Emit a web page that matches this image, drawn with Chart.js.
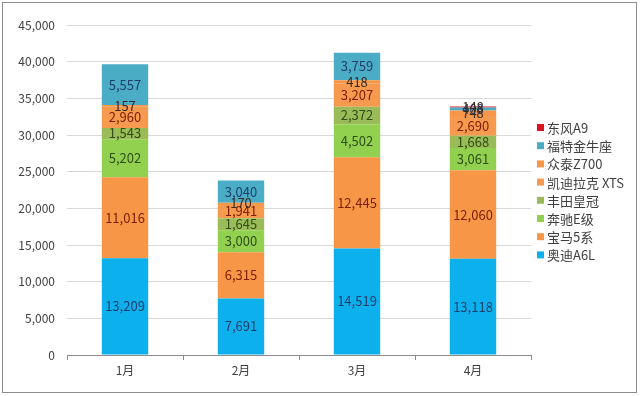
<!DOCTYPE html>
<html>
<head>
<meta charset="utf-8">
<script src="https://cdn.jsdelivr.net/npm/chart.js@4"></script>
<style>
  html, body { margin: 0; padding: 0; background: #fff; }
  #wrap { width: 640px; height: 396px; }
</style>
</head>
<body>
<div id="wrap"><canvas id="sales"></canvas></div>
<script>
const months = ['1月', '2月', '3月', '4月']
const audiA6L = [13209, 7691, 14519, 13118]
const bmw5 = [11016, 6315, 12445, 12060]
const benzE = [5202, 3000, 4502, 3061]
const crown = [1543, 1645, 2372, 1668]
const cadillacXTS = [2960, 1941, 3207, 2690]
const zotyeZ700 = [157, 170, 418, 748]
const fordTaurus = [5557, 3040, 3759, 408]
const dongfengA9 = [0, 0, 0, 148]
const yTicks = [0, 5000, 10000, 15000, 20000, 25000, 30000, 35000, 40000, 45000]

const font = "'Noto Sans CJK SC', 'Noto Sans', sans-serif"

function ds(label, data, color, labelColor) {
  return { label, data, backgroundColor: color, labelColor, borderWidth: 0 }
}

// labels in the middle of every segment
const segLabels = {
  id: 'segLabels',
  afterDatasetsDraw(chart) {
    const ctx = chart.ctx
    ctx.save()
    ctx.font = '13px ' + font
    ctx.textAlign = 'center'
    ctx.textBaseline = 'middle'
    chart.data.datasets.forEach((d, i) => {
      chart.getDatasetMeta(i).data.forEach((bar, j) => {
        const v = d.data[j]
        if (!v) return
        ctx.fillStyle = d.labelColor
        ctx.fillText(v.toLocaleString('en-US'), bar.x, (bar.y + bar.base) / 2)
      })
    })
    ctx.restore()
  }
}

// frame + legend on the right, top series first
const frameLegend = {
  id: 'frameLegend',
  beforeDraw(chart) {
    const ctx = chart.ctx
    ctx.save()
    ctx.strokeStyle = '#8c8c8c'
    ctx.lineWidth = 1
    ctx.strokeRect(2.5, 2.5, 634, 390)
    ctx.restore()
  },
  afterDraw(chart) {
    const ctx = chart.ctx
    ctx.save()
    ctx.font = '13px ' + font
    ctx.textBaseline = 'middle'
    const list = chart.data.datasets.slice().reverse()
    list.forEach((d, i) => {
      const y = 128 + i * 18.2
      ctx.fillStyle = d.backgroundColor
      ctx.fillRect(537, y - 4, 7, 7)
      ctx.fillStyle = '#404040'
      ctx.fillText(d.label, 547, y)
    })
    ctx.restore()
  }
}

new Chart(document.getElementById('sales'), {
  type: 'bar',
  data: {
    labels: months,
    datasets: [
      ds('奥迪A6L', audiA6L, '#0bb0ec', '#1f3f6e'),
      ds('宝马5系', bmw5, '#f79646', '#7a1f05'),
      ds('奔驰E级', benzE, '#92d050', '#2f4f14'),
      ds('丰田皇冠', crown, '#9bbb59', '#2f4f14'),
      ds('凯迪拉克 XTS', cadillacXTS, '#f59a4e', '#7a1f05'),
      ds('众泰Z700', zotyeZ700, '#f79646', '#3a2a20'),
      ds('福特金牛座', fordTaurus, '#4bacc6', '#1f3f6e'),
      ds('东风A9', dongfengA9, '#d9141e', '#3a2a20')
    ]
  },
  options: {
    responsive: true,
    maintainAspectRatio: false,
    animation: false,
    layout: { padding: { left: 0, right: 109, top: 25, bottom: 0 } },
    datasets: { bar: { categoryPercentage: 1, barPercentage: 0.4 } },
    plugins: { legend: { display: false }, tooltip: { enabled: false } },
    scales: {
      x: {
        stacked: true,
        afterFit: s => { s.height = 41 },
        grid: { drawOnChartArea: false, drawTicks: true, tickLength: 5, offset: true, color: '#8c8c8c' },
        border: { color: '#8c8c8c' },
        ticks: { color: '#404040', font: { family: font, size: 12 }, padding: 3 }
      },
      y: {
        stacked: true,
        min: 0,
        max: 45000,
        afterFit: s => { s.width = 67 },
        afterBuildTicks: s => { s.ticks = yTicks.map(v => ({ value: v })) },
        grid: { color: '#d9d9d9', drawTicks: false },
        border: { display: false },
        ticks: {
          color: '#404040',
          font: { family: font, size: 12 },
          padding: 12,
          callback: v => v.toLocaleString('en-US')
        }
      }
    }
  },
  plugins: [segLabels, frameLegend]
})
</script>
</body>
</html>
